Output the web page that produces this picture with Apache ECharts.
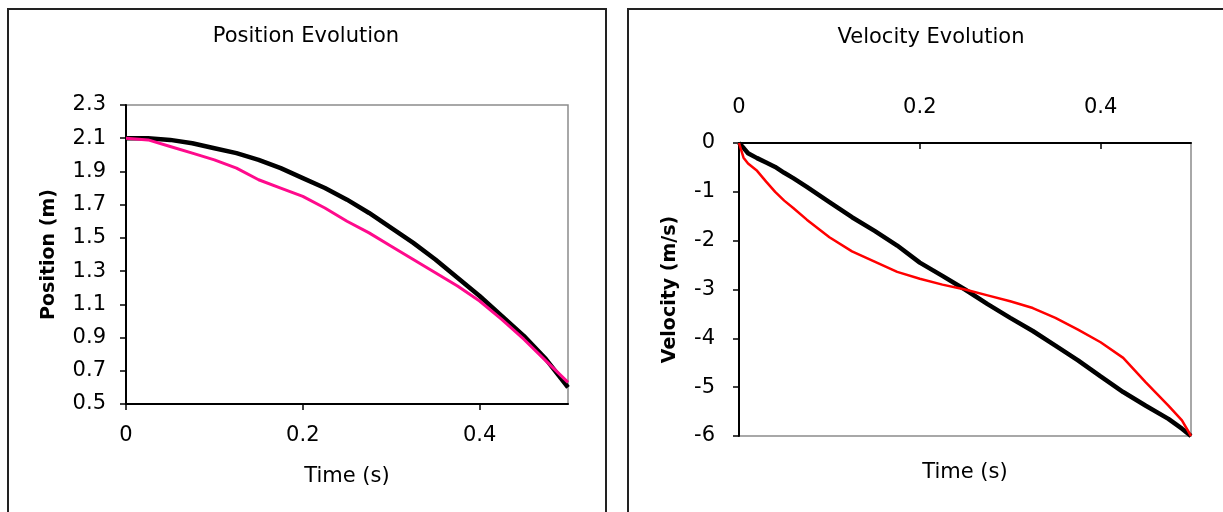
<!DOCTYPE html>
<html>
<head>
<meta charset="utf-8">
<title>Position / Velocity Evolution</title>
<script src="https://cdn.jsdelivr.net/npm/echarts@6/dist/echarts.min.js"></script>
<style>
  html, body { margin: 0; padding: 0; background: #fff; }
  #chart { width: 1223px; height: 512px; }
</style>
</head>
<body>
<div id="chart"></div>
<script>
  // 位置曲线（左图）
  const posTime = [0, 0.025, 0.05, 0.075, 0.1, 0.125, 0.15, 0.175, 0.2, 0.225, 0.25,
    0.275, 0.3, 0.325, 0.35, 0.375, 0.4, 0.425, 0.45, 0.475, 0.5]
  const posBlack = [2.10, 2.10, 2.09, 2.07, 2.04, 2.01, 1.97, 1.92, 1.86, 1.80, 1.73,
    1.65, 1.56, 1.47, 1.37, 1.26, 1.15, 1.03, 0.91, 0.77, 0.60]
  const posPink = [2.10, 2.09, 2.05, 2.01, 1.97, 1.92, 1.85, 1.80, 1.75, 1.68, 1.60,
    1.53, 1.45, 1.37, 1.29, 1.21, 1.12, 1.01, 0.89, 0.76, 0.63]
  const posXTicks = [0, 0.2, 0.4]
  const posYTicks = [0.5, 0.7, 0.9, 1.1, 1.3, 1.5, 1.7, 1.9, 2.1, 2.3]

  // 速度曲线（右图）
  const velTime = [0, 0.005, 0.01, 0.02, 0.03, 0.04, 0.05, 0.06, 0.075, 0.1, 0.125, 0.15,
    0.175, 0.2, 0.225, 0.25, 0.275, 0.3, 0.325, 0.35, 0.375, 0.4, 0.425, 0.45, 0.475, 0.49, 0.5]
  const velBlack = [0, -0.1, -0.21, -0.31, -0.4, -0.49, -0.61, -0.72, -0.9, -1.21, -1.52, -1.8,
    -2.1, -2.45, -2.72, -3.0, -3.3, -3.58, -3.85, -4.15, -4.45, -4.78, -5.1, -5.38, -5.65, -5.85, -6.0]
  const velRed = [0, -0.3, -0.42, -0.57, -0.79, -1.0, -1.18, -1.33, -1.57, -1.93, -2.22, -2.43,
    -2.64, -2.78, -2.9, -3.0, -3.12, -3.24, -3.38, -3.58, -3.82, -4.08, -4.4, -4.9, -5.38, -5.68, -6.0]
  const velXTicks = [0, 0.2, 0.4]
  const velYTicks = [-6, -5, -4, -3, -2, -1, 0]

  const FONT = 'DejaVu Sans'
  const pairs = (xs, ys) => xs.map((x, i) => [x, ys[i]])
  const fmt = v => String(+(+v).toFixed(1))

  const chart = echarts.init(document.getElementById('chart'))

  const labelStyle = { color: '#000', fontFamily: FONT, fontSize: 21 }
  const nameStyle = { color: '#000', fontFamily: FONT, fontSize: 21 }
  const yNameStyle = { color: '#000', fontFamily: FONT, fontSize: 19, fontWeight: 'bold' }
  const blackLine = { lineStyle: { color: '#000', width: 2 } }
  const blackTick = { lineStyle: { color: '#000', width: 1.5 }, length: 6 }

  const option = {
    backgroundColor: '#fff',
    animation: false,
    graphic: [
      // 外框
      { type: 'rect', shape: { x: 8, y: 9, width: 598, height: 530 },
        style: { fill: null, stroke: '#222', lineWidth: 2 } },
      { type: 'rect', shape: { x: 628, y: 9, width: 620, height: 530 },
        style: { fill: null, stroke: '#222', lineWidth: 2 } },
      // 标题
      { type: 'text', x: 306, y: 37,
        style: { text: 'Position Evolution', font: '21px "DejaVu Sans"', fill: '#000',
          align: 'center', verticalAlign: 'middle', textAlign: 'center', textVerticalAlign: 'middle' } },
      { type: 'text', x: 931, y: 38,
        style: { text: 'Velocity Evolution', font: '21px "DejaVu Sans"', fill: '#000',
          align: 'center', verticalAlign: 'middle', textAlign: 'center', textVerticalAlign: 'middle' } }
    ],
    grid: [
      { left: 126, top: 105, width: 442, height: 299, show: true,
        borderColor: '#8c8c8c', borderWidth: 1.5, backgroundColor: '#fff' },
      { left: 739, top: 143, width: 452, height: 293, show: true,
        borderColor: '#8c8c8c', borderWidth: 1.5, backgroundColor: '#fff' }
    ],
    xAxis: [
      {
        gridIndex: 0, type: 'value', min: 0, max: 0.5, position: 'bottom',
        name: 'Time (s)', nameLocation: 'middle', nameGap: 62, nameTextStyle: nameStyle,
        axisLine: blackLine, axisTick: { ...blackTick, customValues: posXTicks },
        axisLabel: { ...labelStyle, margin: 21, formatter: fmt, customValues: posXTicks },
        splitLine: { show: false }
      },
      {
        gridIndex: 1, type: 'value', min: 0, max: 0.5, position: 'top',
        axisLine: { onZero: false, ...blackLine },
        axisTick: { ...blackTick, inside: true, customValues: velXTicks },
        axisLabel: { ...labelStyle, margin: 25, formatter: fmt, customValues: velXTicks },
        splitLine: { show: false }
      },
      {
        // 右图的横轴标题在下方
        gridIndex: 1, type: 'value', min: 0, max: 0.5, position: 'bottom',
        name: 'Time (s)', nameLocation: 'middle', nameGap: 26, nameTextStyle: nameStyle,
        axisLine: { show: false }, axisTick: { show: false },
        axisLabel: { show: false }, splitLine: { show: false }
      }
    ],
    yAxis: [
      {
        gridIndex: 0, type: 'value', min: 0.5, max: 2.3,
        name: 'Position (m)', nameLocation: 'middle', nameGap: 67, nameTextStyle: yNameStyle,
        axisLine: { show: true, ...blackLine }, axisTick: { show: true, ...blackTick, customValues: posYTicks },
        axisLabel: { ...labelStyle, margin: 20, formatter: fmt, customValues: posYTicks },
        splitLine: { show: false }
      },
      {
        gridIndex: 1, type: 'value', min: -6, max: 0, interval: 1,
        name: 'Velocity (m/s)', nameLocation: 'middle', nameGap: 59, nameTextStyle: yNameStyle,
        axisLine: { show: true, onZero: false, ...blackLine }, axisTick: { show: true, ...blackTick },
        axisLabel: { ...labelStyle, margin: 24 },
        splitLine: { show: false }
      }
    ],
    series: [
      { type: 'line', xAxisIndex: 0, yAxisIndex: 0, data: pairs(posTime, posBlack),
        showSymbol: false, lineStyle: { color: '#000', width: 4.5 } },
      { type: 'line', xAxisIndex: 0, yAxisIndex: 0, data: pairs(posTime, posPink),
        showSymbol: false, lineStyle: { color: '#ff0a8c', width: 3 } },
      { type: 'line', xAxisIndex: 1, yAxisIndex: 1, data: pairs(velTime, velBlack),
        showSymbol: false, lineStyle: { color: '#000', width: 4.5 } },
      { type: 'line', xAxisIndex: 1, yAxisIndex: 1, data: pairs(velTime, velRed),
        showSymbol: false, lineStyle: { color: '#f00', width: 2.5 } }
    ]
  }

  chart.setOption(option)
</script>
</body>
</html>
